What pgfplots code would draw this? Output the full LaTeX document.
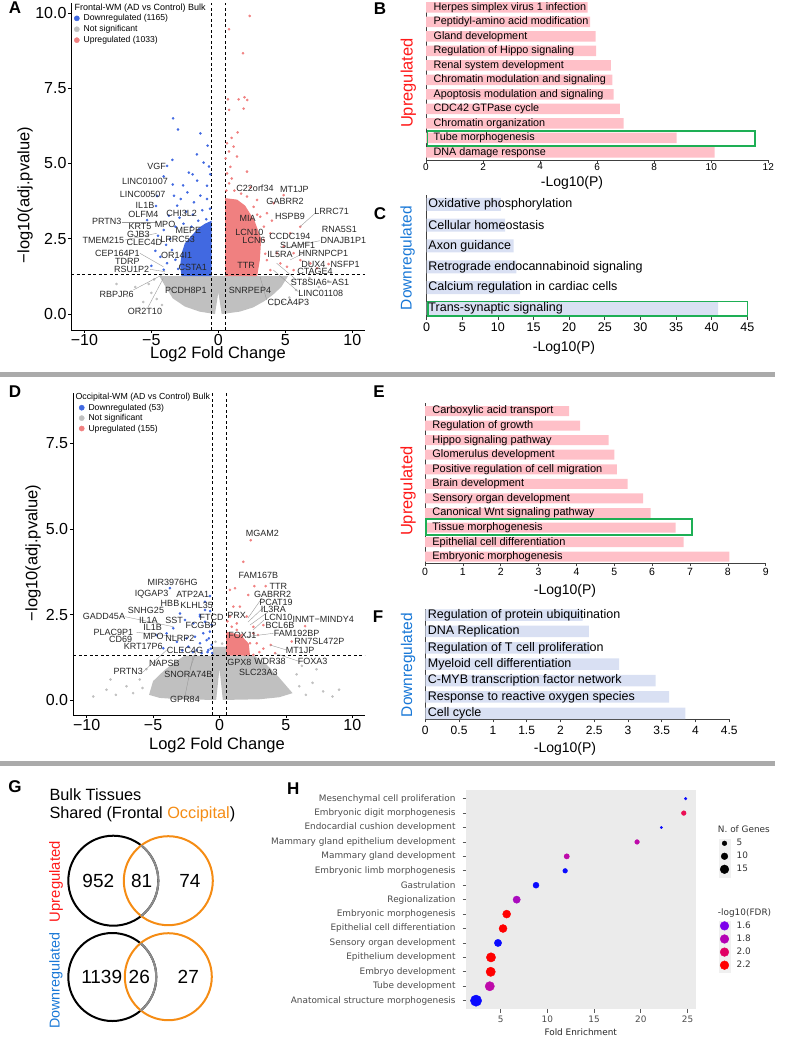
\documentclass[border=0pt]{standalone}
\usepackage{pgfplots}
\pgfplotsset{compat=1.18}
\usepackage{fontspec}
\setmainfont{Liberation Sans}
\newfontfamily\hfont{DejaVu Sans}
\definecolor{volblue}{RGB}{65,105,225}
\definecolor{volred}{RGB}{240,128,128}
\definecolor{volgray}{RGB}{192,192,192}
\definecolor{barpink}{RGB}{255,192,200}
\definecolor{barblue}{RGB}{217,224,243}
\definecolor{boxgreen}{RGB}{30,175,85}
\definecolor{upred}{RGB}{255,25,25}
\definecolor{downblue}{RGB}{25,120,215}
\definecolor{vorange}{RGB}{245,140,20}
\definecolor{hbg}{RGB}{235,235,235}
\definecolor{hkey}{RGB}{240,240,240}
\definecolor{hblue}{RGB}{10,10,255}
\definecolor{hred}{RGB}{255,0,0}
\definecolor{hmag}{RGB}{190,10,170}
\definecolor{hcrim}{RGB}{235,15,85}
\definecolor{hpur}{RGB}{170,10,190}
\definecolor{lgA}{RGB}{125,0,235}
\definecolor{lgB}{RGB}{180,0,180}
\definecolor{lgC}{RGB}{225,0,100}
\definecolor{sepgray}{RGB}{170,170,170}
\newcommand{\fs}[1]{\fontsize{#1}{#1}\selectfont}
\newcommand{\hlab}{\hfont\fontsize{8.9}{10.5}\selectfont}
\newcommand{\gl}[3]{\node[font=\fs{9}, text=black!85, inner sep=0pt] at (#1pt,-#2pt) {#3};}
\newcommand{\leader}[4]{\draw[black!40, line width=0.4pt] (#1pt,-#2pt) -- (#3pt,-#4pt);}
\pgfplotsset{
 volc/.style={scale only axis, axis x line*=bottom, axis y line*=left,
  axis line style={-, line width=0.9pt, black}, tick align=outside, major tick length=3pt,
  tick style={black, line width=0.8pt}, xmin=-11, xmax=10.95, xtick={-10,-5,0,5,10},
  xticklabels={−10,−5,0,5,10}, tick label style={font=\fs{16}},
  xticklabel style={yshift=2pt},
  legend cell align=left,
  legend image code/.code={\draw[##1] plot coordinates {(0pt,0pt)};},
  legend style={draw=none, fill=none, inner sep=0pt, outer sep=0pt, row sep=0pt,
   font=\fs{8.6}, anchor=north west,
   /tikz/every odd column/.append style={column sep=3.7pt}}},
 gpt/.style={only marks, mark=*, mark size=1.1pt, color=volgray, forget plot},
 bpt/.style={only marks, mark=*, mark size=1.1pt, color=volblue, forget plot},
 rpt/.style={only marks, mark=*, mark size=1.1pt, color=volred, forget plot},
 hbar/.style={scale only axis, xbar, axis x line*=bottom, axis y line*=left,
  axis line style={-, line width=0.8pt, black!75}, tick align=outside, major tick length=3pt,
  tick style={black!75, line width=0.7pt}, ytick=\empty, clip=false}
}
\begin{document}
\begin{tikzpicture}
\useasboundingbox (0pt,0pt) rectangle (787pt,-1046pt);

% ---------------- Panel A ----------------
\begin{axis}[volc, at={(71pt,-330pt)}, anchor=south west, width=294pt, height=327pt,
  ymin=-0.53, ymax=10.33, ytick={0,2.5,5,7.5,10}, yticklabels={0.0,2.5,5.0,7.5,10.0},
  yticklabel style={xshift=2pt},
  legend style={at={(0.011,1.003)}, nodes={inner sep=0.5pt, text height=7.5pt, text depth=2.4pt}}]
\addplot[fill=volgray, draw=none, forget plot] coordinates {(-4.4,1.26) (-4.0,0.95) (-3.4,0.52) (-2.5,0.25) (-1.4,0.08) (-0.25,0.0) (0,0.72) (0.25,0.0) (1.6,0.08) (2.6,0.22) (3.4,0.42) (4.1,0.65) (4.7,0.9) (5.2,1.26)};
\addplot[gpt] coordinates {(-5.2,1.0) (-5.0,0.7) (-4.8,1.15) (-4.6,0.5) (-5.6,0.4) (-6.2,0.9) (5.5,1.1) (5.8,0.8) (6.3,1.0) (5.3,0.55) (6.8,1.2) (4.8,0.4) (7.5,0.9) (-6.8,0.6) (-4.2,0.3) (4.3,0.3) (8.2,1.1) (-7.6,1.0) (6.1,0.35) (-5.9,0.2)};
\addplot[fill=volblue, draw=none, forget plot] coordinates {(-0.5,1.26) (-2.75,1.26) (-2.85,1.6) (-2.75,2.0) (-2.5,2.35) (-2.0,2.6) (-1.5,2.85) (-1.0,3.0) (-0.5,3.1)};
\addplot[bpt] coordinates {(-3.38,6.50) (-3.01,6.13) (-1.34,6.0) (-0.80,5.59) (-3.43,5.12) (-3.83,4.92) (-1.92,4.64) (-0.60,4.64) (-1.10,5.03) (-2.63,4.27) (-4.08,4.57) (-4.57,3.92) (-4.65,3.59) (-5.32,3.12) (-4.08,2.79) (-3.31,3.93) (-2.81,3.82) (-2.31,4.04) (-1.82,3.71) (-1.34,3.93) (-0.85,3.82) (-3.07,3.60) (-3.69,3.27) (-0.85,4.26) (-1.58,4.43) (-0.62,3.5) (-4.33,1.90) (-4.08,1.47) (-3.83,1.69) (-3.46,2.13) (-3.6,2.5) (-3.2,2.9) (-2.9,3.2) (-2.4,3.4) (-1.9,3.3) (-1.2,3.45) (-3.9,2.3) (-4.5,2.6) (-3.0,1.5) (-3.2,1.8) (-2.2,4.7) (-1.6,5.3) (-0.7,4.9) (-5.0,1.6) (-4.7,2.1) (-3.4,4.3) (-2.6,3.0) (-2.0,2.9) (-1.5,3.1) (-0.9,3.15)};
\addplot[fill=volred, draw=none, forget plot] coordinates {(0.5,1.26) (2.9,1.26) (3.1,1.8) (3.2,2.5) (2.7,3.1) (2.0,3.6) (1.4,3.8) (0.5,3.85)};
\addplot[rpt] coordinates {(2.34,9.90) (0.80,9.46) (1.84,8.66) (0.72,7.13) (1.52,7.13) (1.96,7.20) (2.16,7.11) (1.89,6.82) (0.80,6.78) (1.44,6.03) (0.99,5.85) (0.65,5.67) (1.14,5.56) (0.80,5.40) (0.55,5.17) (1.39,5.23) (0.90,4.89) (2.14,4.73) (0.80,4.34) (0.65,4.67) (4.88,3.95) (4.13,3.68) (6.12,2.90) (5.37,2.68) (3.88,2.68) (4.88,2.24) (5.62,2.02) (6.12,1.79) (5.12,1.57) (4.63,1.68) (6.87,1.68) (4.38,2.02) (3.63,1.79) (3.38,2.46) (3.13,3.23) (2.63,3.56) (3.63,3.35) (2.89,3.79) (2.14,3.90) (5.62,1.46) (7.37,1.52) (3.88,1.46) (1.2,4.1) (1.7,4.0) (0.6,4.1) (2.4,4.2) (3.4,2.9) (3.5,2.0) (4.0,3.1) (1.0,4.5) (8.23,1.66) (2.9,3.3)};
\draw[black, line width=0.8pt, dash pattern=on 3pt off 2.5pt] (axis cs:-0.5,-0.53) -- (axis cs:-0.5,10.33);
\draw[black, line width=0.8pt, dash pattern=on 3pt off 2.5pt] (axis cs:0.5,-0.53) -- (axis cs:0.5,10.33);
\draw[black, line width=0.8pt, dash pattern=on 3pt off 2.5pt] (axis cs:-11,1.3) -- (axis cs:10.95,1.3);
\addlegendimage{empty legend}\addlegendentry{\hspace*{-9pt}\fs{9}Frontal-WM (AD vs Control) Bulk}
\addlegendimage{only marks, mark=*, mark size=2.6pt, color=volblue}\addlegendentry{Downregulated (1165)}
\addlegendimage{only marks, mark=*, mark size=2.6pt, color=volgray}\addlegendentry{Not significant}
\addlegendimage{only marks, mark=*, mark size=2.6pt, color=volred}\addlegendentry{Upregulated (1033)}
\end{axis}
\node[font=\fs{16.5}] at (218pt,-354pt) {Log2 Fold Change};
\node[font=\fs{16.5}, rotate=90] at (25pt,-195pt) {−log10(adj.pvalue)};
\leader{121.7}{221.7}{156.7}{221.7}
\leader{125}{240}{156.7}{233.3}
\leader{140}{253.3}{163.3}{266.7}
\leader{150}{269.3}{165}{271.7}
\leader{133.3}{290}{165}{273.3}
\leader{148.3}{306.7}{163.3}{278.3}
\leader{315}{213.3}{300}{226.7}
\leader{320}{240.7}{290}{246.7}
\leader{303.3}{253.3}{290}{260}
\leader{296.7}{280}{276.7}{263.3}
\leader{298.3}{291.7}{273.3}{270}
\leader{266.7}{300}{260}{276.7}
\gl{156.7}{166}{VGF}
\gl{145}{181.7}{LINC01007}
\gl{142.7}{194.3}{LINC00507}
\gl{145}{205}{IL1B}
\gl{143.3}{214}{OLFM4}
\gl{181.7}{213.3}{CHI3L2}
\gl{106.7}{221.7}{PRTN3}
\gl{140}{226.7}{KRT5}
\gl{165}{224}{MPO}
\gl{138.3}{234}{GJB3}
\gl{188.3}{230}{MEPE}
\gl{103.3}{240}{TMEM215}
\gl{144.3}{242.3}{CLEC4D}
\gl{177.7}{239.3}{LRRC53}
\gl{117.3}{253.3}{CEP164P1}
\gl{176.7}{255}{OR14I1}
\gl{127.3}{261.7}{TDRP}
\gl{192.7}{267.3}{CSTA1}
\gl{131.7}{269.3}{RSU1P2}
\gl{116.7}{294}{RBPJP6}
\gl{186}{290.7}{PCDH8P1}
\gl{145}{311}{OR2T10}
\gl{255}{188.7}{C22orf34}
\gl{294.3}{189}{MT1JP}
\gl{285}{201.7}{GABRR2}
\gl{331.7}{211.7}{LRRC71}
\gl{290}{216}{HSPB9}
\gl{247.7}{218.3}{MIA}
\gl{339.3}{229.3}{RNA5S1}
\gl{249.3}{232.3}{LCN10}
\gl{290}{236.7}{CCDC194}
\gl{343.3}{240.7}{DNAJB1P1}
\gl{254}{240.7}{LCN6}
\gl{297.7}{245}{SLAMF1}
\gl{323.3}{253.3}{HNRNPCP1}
\gl{280}{254.3}{IL5RA}
\gl{313.3}{264}{DUX4}
\gl{345}{264}{NSFP1}
\gl{246}{265}{TTR}
\gl{315}{271.7}{CTAGE4}
\gl{320}{282.7}{ST8SIA6−AS1}
\gl{250}{290}{SNRPEP4}
\gl{320.7}{293.3}{LINC01108}
\gl{288.3}{302.7}{CDCA4P3}

% ---------------- Panel B ----------------
\begin{axis}[hbar, at={(426pt,-160pt)}, anchor=south west, width=342.3pt, height=158.3pt,
  xmin=0, xmax=12, ymin=-0.53, ymax=10.39, bar width=10.5pt,
  xtick={0,2,4,6,8,10,12}, xticklabels={0,2,4,6,8,10,12}, tick label style={font=\fs{10}},
  xticklabel style={yshift=3.5pt}]
\addplot[fill=barpink, draw=none] coordinates {(10.12,0) (8.79,1) (6.93,2) (6.80,3) (6.58,4) (6.53,5) (6.48,6) (5.96,7) (5.95,8) (5.75,9) (5.67,10)};
\draw[boxgreen, line width=1.6pt] (axis cs:0.05,0.455) rectangle (axis cs:11.53,1.49);
\begin{scope}[every node/.style={anchor=west, font=\fs{10.8}, inner sep=0pt}]
\node at (axis cs:0.26,0) {DNA damage response};
\node at (axis cs:0.26,1) {Tube morphogenesis};
\node at (axis cs:0.26,2) {Chromatin organization};
\node at (axis cs:0.26,3) {CDC42 GTPase cycle};
\node at (axis cs:0.26,4) {Apoptosis modulation and signaling};
\node at (axis cs:0.26,5) {Chromatin modulation and signaling};
\node at (axis cs:0.26,6) {Renal system development};
\node at (axis cs:0.26,7) {Regulation of Hippo signaling};
\node at (axis cs:0.26,8) {Gland development};
\node at (axis cs:0.26,9) {Peptidyl-amino acid modification};
\node at (axis cs:0.26,10) {Herpes simplex virus 1 infection};
\end{scope}
\end{axis}
\node[font=\fs{14}] at (572pt,-183pt) {-Log10(P)};
\node[font=\fs{16.5}, rotate=90, text=upred] at (408.3pt,-83pt) {Upregulated};

% ---------------- Panel C ----------------
\begin{axis}[hbar, at={(426.7pt,-316.7pt)}, anchor=south west, width=320.6pt, height=121.7pt,
  xmin=0, xmax=45, ymin=-0.40, ymax=5.45, bar width=13pt,
  xtick={0,5,...,45}, xticklabels={0,5,10,15,20,25,30,35,40,45}, tick label style={font=\fs{12.5}}]
\addplot[fill=barblue, draw=none] coordinates {(40.9,0) (13.1,1) (12.6,2) (12.2,3) (11.0,4) (10.4,5)};
\draw[boxgreen, line width=1.6pt] (axis cs:0.2,-0.36) rectangle (axis cs:45,0.33);
\begin{scope}[every node/.style={anchor=west, font=\fs{12.5}, inner sep=0pt}]
\node at (axis cs:0.22,0) {Trans-synaptic signaling};
\node at (axis cs:0.22,1) {Calcium regulation in cardiac cells};
\node at (axis cs:0.22,2) {Retrograde endocannabinoid signaling};
\node at (axis cs:0.22,3) {Axon guidance};
\node at (axis cs:0.22,4) {Cellular homeostasis};
\node at (axis cs:0.22,5) {Oxidative phosphorylation};
\end{scope}
\end{axis}
\node[font=\fs{14}] at (564pt,-348pt) {-Log10(P)};
\node[font=\fs{15.5}, rotate=90, text=downblue] at (407.5pt,-258pt) {Downregulated};

% separators
\fill[sepgray] (0pt,-372.3pt) rectangle (775pt,-376.8pt);
\fill[sepgray] (0pt,-761pt) rectangle (775pt,-765.5pt);

% ---------------- Panel D ----------------
\begin{axis}[volc, at={(73.3pt,-715pt)}, anchor=south west, width=291.7pt, height=321.7pt,
  ymin=-0.44, ymax=8.97, ytick={0,2.5,5,7.5}, yticklabels={0.0,2.5,5.0,7.5},
  yticklabel style={xshift=1.3pt},
  legend style={at={(0.020,1.0037)}, nodes={inner sep=0.5pt, text height=7.3pt, text depth=2.1pt}}]
\addplot[fill=volgray, draw=none, forget plot] coordinates {(-5.3,0.15) (-5.0,0.55) (-4.2,0.85) (-3.4,1.1) (-2.6,1.3) (-0.5,1.3) (-0.5,1.55) (0.5,1.55) (0.5,1.3) (2.6,1.3) (3.5,1.05) (4.5,0.65) (5.5,0.2) (4.5,0.08) (3,0.02) (0.25,0) (0,0.92) (-0.25,0) (-3,0.02) (-4.5,0.06)};
\addplot[gpt] coordinates {(-9.5,0.1) (-8.5,0.3) (-7.8,0.15) (-7,0.4) (-6.5,0.2) (-6,0.6) (-5.8,0.35) (6,0.4) (6.5,0.15) (7,0.5) (7.8,0.25) (8.5,0.1) (5.8,0.75) (-5.5,0.9) (6.2,1.0) (9,0.3) (-4.8,1.1) (4.5,1.1) (-8.2,0.6) (7.3,0.9) (-0.3,1.7) (0.2,1.65)};
\addplot[bpt] coordinates {(-2.97,2.53) (-2.6,2.34) (-3.48,2.10) (-1.97,2.24) (-1.47,2.49) (-1.09,2.63) (-0.72,2.0) (-0.96,1.75) (-0.59,1.61) (-1.47,1.66) (-1.84,1.85) (-2.47,1.80) (-0.84,1.46) (-0.55,1.37) (-1.34,1.37) (-3.98,1.95) (-4.23,1.51) (-4.73,1.90) (-2.35,1.56) (-1.72,1.46) (-1.09,2.29) (-1.22,1.95) (-0.8,1.8) (-3.73,3.27) (-0.72,3.04) (-1.09,2.87) (-1.47,2.44) (-0.6,2.2) (-0.65,1.5) (-0.9,1.4) (-2.0,1.4) (-2.8,1.45) (-3.2,1.7) (-0.7,2.6)};
\addplot[fill=volred, draw=none, forget plot] coordinates {(0.5,1.3) (2.3,1.3) (2.2,1.65) (1.6,1.9) (0.5,2.0)};
\addplot[rpt] coordinates {(2.35,4.67) (1.79,4.04) (2.62,3.33) (3.48,3.33) (1.17,3.27) (0.79,3.22) (2.17,3.07) (1.04,2.73) (1.54,2.73) (2.05,2.44) (3.30,2.19) (6.44,2.16) (0.79,2.44) (1.30,2.24) (2.55,1.95) (2.80,1.66) (5.44,1.71) (3.86,1.61) (4.18,1.37) (2.30,1.66) (1.79,1.75) (1.04,1.85) (0.79,1.66) (1.54,1.56) (2.05,1.46) (1.04,1.41) (0.66,1.51) (1.30,2.05) (1.67,1.90) (0.92,2.14) (2.55,2.14) (1.92,1.32) (2.55,1.32) (3.0,1.4) (3.3,1.5) (2.9,1.9) (0.6,2.3) (0.7,1.35) (1.2,1.6)};
\draw[black, line width=0.8pt, dash pattern=on 3pt off 2.5pt] (axis cs:-0.5,-0.44) -- (axis cs:-0.5,8.97);
\draw[black, line width=0.8pt, dash pattern=on 3pt off 2.5pt] (axis cs:0.5,-0.44) -- (axis cs:0.5,8.97);
\draw[black, line width=0.8pt, dash pattern=on 3pt off 2.5pt] (axis cs:-11,1.3) -- (axis cs:10.95,1.3);
\addlegendimage{empty legend}\addlegendentry{\hspace*{-13pt}\fs{8.8}Occipital-WM (AD vs Control) Bulk}
\addlegendimage{only marks, mark=*, mark size=2.6pt, color=volblue}\addlegendentry{Downregulated (53)}
\addlegendimage{only marks, mark=*, mark size=2.6pt, color=volgray}\addlegendentry{Not significant}
\addlegendimage{only marks, mark=*, mark size=2.6pt, color=volred}\addlegendentry{Upregulated (155)}
\end{axis}
\node[font=\fs{16.5}] at (217pt,-745pt) {Log2 Fold Change};
\node[font=\fs{16.5}, rotate=90] at (33pt,-553pt) {−log10(adj.pvalue)};
\leader{125}{616.7}{173.3}{626.7}
\leader{136.7}{632.3}{176.7}{636.7}
\leader{143.3}{671.7}{166.7}{650}
\leader{185}{696}{193.3}{655}
\leader{190}{669}{196.7}{650}
\leader{300}{661.7}{275}{653.3}
\leader{286.7}{650}{270}{645}
\leader{273.3}{633.3}{246.7}{636.7}
\leader{262}{598}{248}{618}
\leader{265}{606}{248}{622}
\leader{268}{612}{250}{625}
\leader{264}{620}{253}{630}
\gl{172.7}{582.7}{MIR3976HG}
\gl{151.7}{594}{IQGAP3}
\gl{192.7}{594}{ATP2A1}
\gl{170}{603.3}{HBB}
\gl{196.7}{605}{KLHL35}
\gl{146}{610.7}{SNHG25}
\gl{104}{616.7}{GADD45A}
\gl{148.3}{620}{IL1A}
\gl{174}{620}{SST}
\gl{211.7}{617.7}{FTCD}
\gl{236.7}{615}{PRX}
\gl{273.3}{609.3}{IL3RA}
\gl{276}{602.3}{PCAT19}
\gl{272.7}{594}{GABRR2}
\gl{278.3}{586.7}{TTR}
\gl{258.3}{575.7}{FAM167B}
\gl{262.3}{533.3}{MGAM2}
\gl{278.3}{617.3}{LCN10}
\gl{323.3}{619}{INMT−MINDY4}
\gl{152.7}{627.3}{IL1B}
\gl{201}{625.7}{FCGBP}
\gl{280}{625.7}{BCL6B}
\gl{113.3}{632.3}{PLAC9P1}
\gl{242.3}{635.7}{FOXJ1}
\gl{296.7}{633.3}{FAM192BP}
\gl{120.7}{639}{CD69}
\gl{153.3}{636.7}{MPO}
\gl{180}{638.3}{NLRP2}
\gl{319.3}{641.7}{RN7SL472P}
\gl{143.3}{646}{KRT17P6}
\gl{185}{650}{CLEC4G}
\gl{300}{650}{MT1JP}
\gl{312.7}{661.7}{FOXA3}
\gl{270}{661.7}{WDR38}
\gl{239.3}{662.7}{GPX8}
\gl{164.3}{663.3}{NAPSB}
\gl{258.3}{672.7}{SLC23A3}
\gl{188.3}{674}{SNORA74B}
\gl{128.3}{671.7}{PRTN3}
\gl{185}{699.3}{GPR84}

% ---------------- Panel E ----------------
\begin{axis}[hbar, at={(425pt,-563.3pt)}, anchor=south west, width=340.7pt, height=160pt,
  xmin=0, xmax=9, ymin=-0.45, ymax=10.53, bar width=10pt,
  xtick={0,...,9}, xticklabels={0,1,2,3,4,5,6,7,8,9}, tick label style={font=\fs{10.5}},
  xticklabel style={yshift=1.5pt}]
\addplot[fill=barpink, draw=none] coordinates {(8.04,0) (6.83,1) (6.62,2) (5.96,3) (5.76,4) (5.35,5) (5.07,6) (5.0,7) (4.85,8) (4.10,9) (3.81,10)};
\draw[boxgreen, line width=1.6pt] (axis cs:0.03,1.49) rectangle (axis cs:7.05,2.59);
\begin{scope}[every node/.style={anchor=west, font=\fs{11}, inner sep=0pt}]
\node at (axis cs:0.19,0) {Embryonic morphogenesis};
\node at (axis cs:0.19,1) {Epithelial cell differentiation};
\node at (axis cs:0.19,2) {Tissue morphogenesis};
\node at (axis cs:0.19,3) {Canonical Wnt signaling pathway};
\node at (axis cs:0.19,4) {Sensory organ development};
\node at (axis cs:0.19,5) {Brain development};
\node at (axis cs:0.19,6) {Positive regulation of cell migration};
\node at (axis cs:0.19,7) {Glomerulus development};
\node at (axis cs:0.19,8) {Hippo signaling pathway};
\node at (axis cs:0.19,9) {Regulation of growth};
\node at (axis cs:0.19,10) {Carboxylic acid transport};
\end{scope}
\end{axis}
\node[font=\fs{14}] at (565pt,-591pt) {-Log10(P)};
\node[font=\fs{16.5}, rotate=90, text=upred] at (408pt,-491pt) {Upregulated};

% ---------------- Panel F ----------------
\begin{axis}[hbar, at={(425.3pt,-719.3pt)}, anchor=south west, width=304pt, height=110pt,
  xmin=0, xmax=4.5, ymin=-0.37, ymax=6.35, bar width=11.5pt,
  xtick={0,0.5,...,4.5}, xticklabels={0,0.5,1,1.5,2,2.5,3,3.5,4,4.5}, tick label style={font=\fs{12}}]
\addplot[fill=barblue, draw=none] coordinates {(3.85,0) (3.61,1) (3.41,2) (2.87,3) (2.44,4) (2.42,5) (2.33,6)};
\begin{scope}[every node/.style={anchor=west, font=\fs{12.5}, inner sep=0pt}]
\node at (axis cs:0.035,0) {Cell cycle};
\node at (axis cs:0.035,1) {Response to reactive oxygen species};
\node at (axis cs:0.035,2) {C-MYB transcription factor network};
\node at (axis cs:0.035,3) {Myeloid cell differentiation};
\node at (axis cs:0.035,4) {Regulation of T cell proliferation};
\node at (axis cs:0.035,5) {DNA Replication};
\node at (axis cs:0.035,6) {Regulation of protein ubiquitination};
\end{scope}
\end{axis}
\node[font=\fs{14}] at (565pt,-749.3pt) {-Log10(P)};
\node[font=\fs{15.5}, rotate=90, text=downblue] at (408pt,-665pt) {Downregulated};

% ---------------- Panel G ----------------
\node[font=\fs{16.3}, anchor=west, inner sep=0pt] at (49.3pt,-795pt) {Bulk Tissues};
\node[font=\fs{16.3}, anchor=west, inner sep=0pt] at (49.3pt,-814.3pt) {Shared (Frontal \textcolor{vorange}{Occipital})};
\draw[black, line width=2pt] (113.3pt,-880.7pt) circle[radius=45pt];
\draw[vorange, line width=2pt] (168.3pt,-880.7pt) circle[radius=44.5pt];
\draw[black!45, line width=2pt] ([shift={(113.3pt,-880.7pt)}]-51.7:45pt) arc[start angle=-51.7, end angle=51.7, radius=45pt];
\draw[black, line width=2pt] (112.3pt,-977pt) circle[radius=44pt];
\draw[vorange, line width=2pt] (168.3pt,-976.7pt) circle[radius=43.5pt];
\draw[black!45, line width=2pt] ([shift={(112.3pt,-977pt)}]-49.8:44pt) arc[start angle=-49.8, end angle=49.8, radius=44pt];
\node[font=\fs{19}] at (98.3pt,-880.7pt) {952};
\node[font=\fs{19}] at (141.7pt,-880.7pt) {81};
\node[font=\fs{19}] at (190pt,-880.7pt) {74};
\node[font=\fs{19}] at (101.7pt,-976.7pt) {1139};
\node[font=\fs{19}] at (139.3pt,-976.7pt) {26};
\node[font=\fs{19}] at (188.3pt,-976.7pt) {27};
\node[font=\fs{14.8}, rotate=90, text=upred] at (56pt,-881.7pt) {Upregulated};
\node[font=\fs{14.3}, rotate=90, text=downblue] at (56pt,-980.7pt) {Downregulated};

% ---------------- Panel H ----------------
\fill[hkey] (719pt,-839pt) rectangle (731pt,-878pt);
\fill[hkey] (719pt,-921pt) rectangle (731pt,-973pt);
\begin{axis}[at={(466pt,-1009.3pt)}, anchor=south west, scale only axis, width=230pt, height=219.3pt,
  xmin=1.285, xmax=25.91, ymin=-0.6, ymax=14.6,
  axis background/.style={fill=hbg}, axis line style={draw=none},
  xtick={5,10,15,20,25}, xticklabels={}, ytick={0,...,14}, yticklabels={},
  xtick pos=left, ytick pos=left, tick align=outside, major tick length=3.5pt,
  tick style={black!65, line width=0.7pt},
  clip=false,
  legend cell align=left,
  legend image code/.code={\draw[#1] plot coordinates {(0pt,0pt)};},
  legend style={at={(1.105,0.846)}, anchor=north west, draw=none, fill=none, inner sep=0pt, outer sep=0pt, row sep=0pt,
   font=\hlab, text=black!80, nodes={inner sep=0.5pt, text height=8.5pt, text depth=3.5pt},
   /tikz/every odd column/.append style={column sep=7.3pt}}]
\addplot[only marks, mark=*, mark size=1.35pt, color=hblue, forget plot] coordinates {(24.8,14)};
\addplot[only marks, mark=*, mark size=2.35pt, color=hcrim, forget plot] coordinates {(24.6,13)};
\addplot[only marks, mark=*, mark size=1.15pt, color=hblue, forget plot] coordinates {(22.2,12)};
\addplot[only marks, mark=*, mark size=2.35pt, color=hmag, forget plot] coordinates {(19.6,11)};
\addplot[only marks, mark=*, mark size=2.65pt, color=hmag, forget plot] coordinates {(12.07,10)};
\addplot[only marks, mark=*, mark size=2.35pt, color=hblue, forget plot] coordinates {(11.9,9)};
\addplot[only marks, mark=*, mark size=3.0pt, color=hblue, forget plot] coordinates {(8.78,8)};
\addplot[only marks, mark=*, mark size=3.65pt, color=hpur, forget plot] coordinates {(6.71,7)};
\addplot[only marks, mark=*, mark size=4.0pt, color=hred, forget plot] coordinates {(5.64,6)};
\addplot[only marks, mark=*, mark size=4.0pt, color=hred, forget plot] coordinates {(5.25,5)};
\addplot[only marks, mark=*, mark size=3.65pt, color=hblue, forget plot] coordinates {(4.71,4)};
\addplot[only marks, mark=*, mark size=4.65pt, color=hred, forget plot] coordinates {(3.96,3)};
\addplot[only marks, mark=*, mark size=4.65pt, color=hred, forget plot] coordinates {(3.93,2)};
\addplot[only marks, mark=*, mark size=4.65pt, color=hmag, forget plot] coordinates {(3.83,1)};
\addplot[only marks, mark=*, mark size=5.65pt, color=hblue, forget plot] coordinates {(2.36,0)};
\begin{scope}[every node/.style={anchor=east, font=\hlab, text=black!70, inner sep=0pt, xshift=-10.3pt}]
\node at (axis cs:1.285,0) {Anatomical structure morphogenesis};
\node at (axis cs:1.285,1) {Tube development};
\node at (axis cs:1.285,2) {Embryo development};
\node at (axis cs:1.285,3) {Epithelium development};
\node at (axis cs:1.285,4) {Sensory organ development};
\node at (axis cs:1.285,5) {Epithelial cell differentiation};
\node at (axis cs:1.285,6) {Embryonic morphogenesis};
\node at (axis cs:1.285,7) {Regionalization};
\node at (axis cs:1.285,8) {Gastrulation};
\node at (axis cs:1.285,9) {Embryonic limb morphogenesis};
\node at (axis cs:1.285,10) {Mammary gland development};
\node at (axis cs:1.285,11) {Mammary gland epithelium development};
\node at (axis cs:1.285,12) {Endocardial cushion development};
\node at (axis cs:1.285,13) {Embryonic digit morphogenesis};
\node at (axis cs:1.285,14) {Mesenchymal cell proliferation};
\end{scope}
\begin{scope}[every node/.style={font=\hlab, text=black!70, inner sep=0pt, yshift=-10pt}]
\node at (axis cs:5,-0.6) {5};
\node at (axis cs:10,-0.6) {10};
\node at (axis cs:15,-0.6) {15};
\node at (axis cs:20,-0.6) {20};
\node at (axis cs:25,-0.6) {25};
\end{scope}
\addlegendimage{empty legend}\addlegendentry{\hspace*{-18.7pt}N. of Genes}
\addlegendimage{only marks, mark=*, mark size=2.35pt, color=black}\addlegendentry{5}
\addlegendimage{only marks, mark=*, mark size=3.35pt, color=black}\addlegendentry{10}
\addlegendimage{only marks, mark=*, mark size=4.35pt, color=black}\addlegendentry{15}
\end{axis}
\begin{axis}[at={(466pt,-1009.3pt)}, anchor=south west, scale only axis, width=230pt, height=219.3pt,
  xmin=0, xmax=1, ymin=0, ymax=1, hide axis,
  legend cell align=left,
  legend image code/.code={\draw[#1] plot coordinates {(0pt,0pt)};},
  legend style={at={(1.105,0.470)}, anchor=north west, draw=none, fill=none, inner sep=0pt, outer sep=0pt, row sep=0pt,
   font=\hlab, text=black!80, nodes={inner sep=0.5pt, text height=8.5pt, text depth=3.6pt},
   /tikz/every odd column/.append style={column sep=7.3pt}}]
\addlegendimage{empty legend}\addlegendentry{\hspace*{-18.7pt}-log10(FDR)}
\addlegendimage{only marks, mark=*, mark size=4.35pt, color=lgA}\addlegendentry{1.6}
\addlegendimage{only marks, mark=*, mark size=4.35pt, color=lgB}\addlegendentry{1.8}
\addlegendimage{only marks, mark=*, mark size=4.35pt, color=lgC}\addlegendentry{2.0}
\addlegendimage{only marks, mark=*, mark size=4.35pt, color=hred}\addlegendentry{2.2}
\end{axis}
\node[font=\hlab, text=black!85] at (580.7pt,-1032.3pt) {Fold Enrichment};

% panel letters
\begin{scope}[every node/.style={font=\bfseries\fs{17}, inner sep=0pt}]
\node at (15pt,-8pt) {A};
\node at (380pt,-8.3pt) {B};
\node at (380pt,-213.3pt) {C};
\node at (15pt,-392pt) {D};
\node at (379pt,-392pt) {E};
\node at (378pt,-616.7pt) {F};
\node at (15pt,-787pt) {G};
\node at (293.3pt,-788.3pt) {H};
\end{scope}
\end{tikzpicture}
\end{document}
